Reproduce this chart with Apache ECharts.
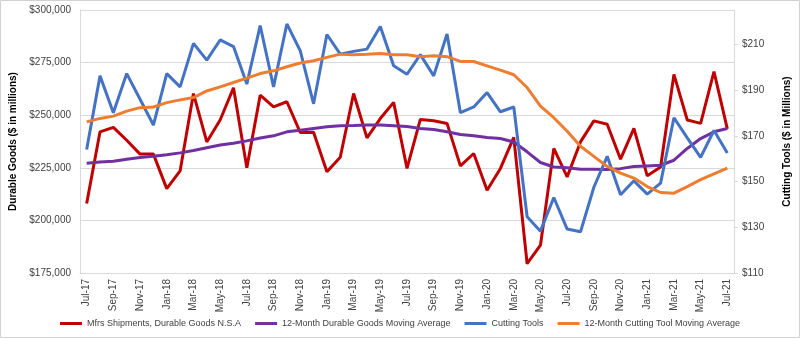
<!DOCTYPE html>
<html>
<head>
<meta charset="utf-8">
<script src="https://cdn.jsdelivr.net/npm/echarts@6/dist/echarts.min.js"></script>
<style>html,body{margin:0;padding:0;background:#fff}#c{width:800px;height:338px}</style>
</head>
<body>
<div id="c"></div>
<script>
const months = ['Jul-17','Aug-17','Sep-17','Oct-17','Nov-17','Dec-17','Jan-18','Feb-18','Mar-18','Apr-18','May-18','Jun-18','Jul-18','Aug-18','Sep-18','Oct-18','Nov-18','Dec-18','Jan-19','Feb-19','Mar-19','Apr-19','May-19','Jun-19','Jul-19','Aug-19','Sep-19','Oct-19','Nov-19','Dec-19','Jan-20','Feb-20','Mar-20','Apr-20','May-20','Jun-20','Jul-20','Aug-20','Sep-20','Oct-20','Nov-20','Dec-20','Jan-21','Feb-21','Mar-21','Apr-21','May-21','Jun-21','Jul-21'];
const durableGoods = [208000,242100,244200,238100,231500,231500,215100,223500,260300,237300,247700,263000,225000,259500,254000,256400,241800,241900,223100,230000,260300,239200,248400,256100,224700,248000,247400,246100,225900,231800,214300,224700,239500,179400,188200,234200,220700,237300,247300,245700,229100,243700,221200,225400,269400,247700,246100,270700,243500];
const durableMA = [227200,227800,228100,229100,229900,230500,231200,232100,233200,234500,235800,236700,237800,239200,240200,242100,242900,243700,244500,245000,245100,245300,245300,245000,244600,243700,243200,242100,240800,240200,239400,238900,237300,232600,227500,225400,225000,224300,224300,224200,224600,225600,225900,226200,228600,234200,238900,242100,243700];
const cuttingTools = [164.0,196.2,180.1,197.2,186.0,174.7,197.2,191.4,210.4,203.1,211.9,209.0,192.6,218.2,191.4,218.9,207.2,184.0,214.3,205.7,206.9,207.9,217.8,200.6,196.9,205.5,196.2,214.5,180.1,182.6,188.9,180.5,182.6,134.6,128.3,143.0,129.2,128.0,147.5,161.0,144.2,150.3,144.5,149.3,177.9,169.1,160.6,172.3,162.5];
const cuttingMA = [176.1,177.6,178.6,180.8,182.3,182.6,184.5,185.7,186.7,189.6,191.4,193.3,195.2,197.2,198.4,200.2,201.8,202.8,204.3,205.7,205.4,205.6,206.0,205.4,205.4,204.6,205.0,204.6,202.5,202.5,200.6,198.7,196.7,191.1,183.0,177.9,172.0,165.4,161.0,156.6,153.7,151.5,147.8,145.2,144.9,147.8,150.8,153.3,155.9];
const leftTicks = {min:175000, max:300000, interval:25000};
const rightTicks = {min:110, max:225, interval:20};
const names = ['Mfrs Shipments, Durable Goods N.S.A','12-Month Durable Goods Moving Average','Cutting Tools','12-Month Cutting Tool Moving Average'];

const chart = echarts.init(document.getElementById('c'), null, {renderer:'canvas'});
const FONT = 'Liberation Sans';
const lineSeries = (name, data, color, yi) => ({
  name, type:'line', data, yAxisIndex: yi, symbol:'none', smooth:false,
  lineStyle:{color, width:3}, itemStyle:{color}, animation:false
});
chart.setOption({
  animation:false,
  textStyle:{fontFamily:FONT},
  graphic:[{type:'rect', shape:{x:0.5,y:0.5,width:799,height:337}, style:{fill:'none', stroke:'#d0d0d0', lineWidth:1}, silent:true}],
  grid:{left:76, right:60, top:10, bottom:65},
  legend:{
    bottom:5, left:'center', itemWidth:22, itemHeight:3, icon:'rect', itemGap:14,
    textStyle:{fontSize:9, color:'#404040', fontFamily:FONT},
    data:names
  },
  xAxis:{
    type:'category', data:months, boundaryGap:true,
    axisLine:{lineStyle:{color:'#d9d9d9'}}, axisTick:{show:false},
    axisLabel:{rotate:90, interval:1, fontSize:10, color:'#404040', margin:6}
  },
  yAxis:[{
    type:'value', min:leftTicks.min, max:leftTicks.max, interval:leftTicks.interval,
    name:'Durable Goods ($ in millions)', nameLocation:'middle', nameRotate:90, nameGap:62,
    nameTextStyle:{fontSize:10, fontWeight:'bold', color:'#000'},
    axisLine:{show:true, lineStyle:{color:'#d9d9d9'}}, axisTick:{show:false},
    splitLine:{lineStyle:{color:'#d9d9d9', width:1}},
    axisLabel:{fontSize:10, color:'#404040', margin:9, formatter:v=>'$'+v.toLocaleString('en-US')}
  },{
    type:'value', position:'right', min:rightTicks.min, max:rightTicks.max, interval:rightTicks.interval,
    name:'Cutting Tools ($ in Millions)', nameLocation:'middle', nameRotate:90, nameGap:48,
    nameTextStyle:{fontSize:10, fontWeight:'bold', color:'#000'},
    axisLine:{show:true, lineStyle:{color:'#d9d9d9'}},
    axisTick:{show:true, length:4, lineStyle:{color:'#d9d9d9'}},
    splitLine:{show:false},
    axisLabel:{fontSize:10, color:'#404040', margin:8, showMaxLabel:false, formatter:v=>'$'+v}
  }],
  series:[
    lineSeries(names[0], durableGoods, '#C00000', 0),
    lineSeries(names[1], durableMA, '#7030A0', 0),
    lineSeries(names[2], cuttingTools, '#4472C4', 1),
    lineSeries(names[3], cuttingMA, '#ED7D31', 1)
  ]
});
</script>
</body>
</html>
